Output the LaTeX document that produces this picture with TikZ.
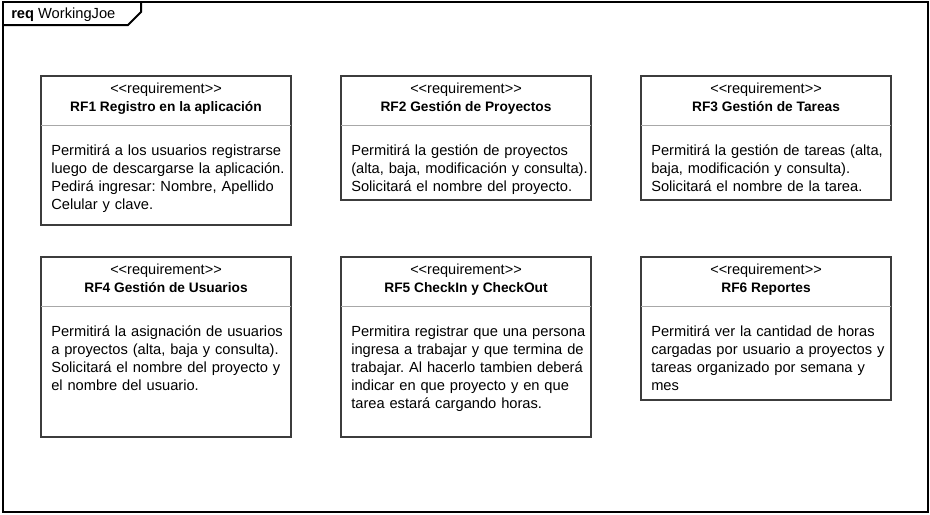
\documentclass[tikz,border=0pt]{standalone}
\usepackage{fontspec}
\setmainfont{Liberation Sans}
\definecolor{boxline}{HTML}{3C3C3C}
\definecolor{divline}{HTML}{A8A8A8}
\frenchspacing
\begin{document}
\begin{tikzpicture}[x=0.75pt,y=-0.75pt,
  reqbox/.style={draw=boxline,line width=1.4pt*0.75},
  divider/.style={draw=divline,line width=1pt*0.75},
  stereo/.style={anchor=base,inner sep=0pt,font=\fontsize{10.9}{12}\selectfont},
  titletext/.style={anchor=base,inner sep=0pt,font=\fontsize{10.3}{12}\selectfont\bfseries},
  bodytext/.style={anchor=base west,inner sep=0pt,align=left,text width=205pt,font=\fontsize{11}{13.5}\selectfont}]
\useasboundingbox (0,0) rectangle (930,514);
% frame
\draw[line width=1.5pt] (3,2) rectangle (928,512);
\draw[line width=1.5pt] (3,25) -- (128,25) -- (141,12) -- (141,2);
\node[anchor=base west,inner sep=0pt,font=\fontsize{11}{12}\selectfont] (frametitle) at (11,18) {\textbf{req} WorkingJoe};
\newcommand{\reqbox}[6]{%
  % #1 name, #2 x, #3 y top, #4 y bottom, #5 title, #6 body
  \draw[reqbox] (#2,#3) rectangle (#2+250,#4);
  \draw[divider] (#2,#3+49) -- (#2+250,#3+49);
  \node[stereo] (#1s) at (#2+125,#3+17) {<{}<requirement>{}>};
  \node[titletext] (#1t) at (#2+125,#3+35) {#5};
  \node[bodytext] (#1b) at (#2+10,#3+79) {#6};
}
\reqbox{rfa}{41}{76}{225}{RF1 Registro en la aplicación}{Permitirá a los usuarios registrarse\\luego de descargarse la aplicación.\\Pedirá ingresar: Nombre, Apellido\\Celular y clave.}
\reqbox{rfb}{341}{76}{200}{RF2 Gestión de Proyectos}{Permitirá la gestión de proyectos\\(alta, baja, modificación y consulta).\\Solicitará el nombre del proyecto.}
\reqbox{rfc}{641}{76}{200}{RF3 Gestión de Tareas}{Permitirá la gestión de tareas (alta,\\baja, modificación y consulta).\\Solicitará el nombre de la tarea.}
\reqbox{rfd}{41}{257}{437}{RF4 Gestión de Usuarios}{Permitirá la asignación de usuarios\\a proyectos (alta, baja y consulta).\\Solicitará el nombre del proyecto y\\el nombre del usuario.}
\reqbox{rfe}{341}{257}{437}{RF5 CheckIn y CheckOut}{Permitira registrar que una persona\\ingresa a trabajar y que termina de\\trabajar. Al hacerlo tambien deberá\\indicar en que proyecto y en que\\tarea estará cargando horas.}
\reqbox{rff}{641}{257}{400}{RF6 Reportes}{Permitirá ver la cantidad de horas\\cargadas por usuario a proyectos y\\tareas organizado por semana y\\mes}
\end{tikzpicture}
\end{document}
